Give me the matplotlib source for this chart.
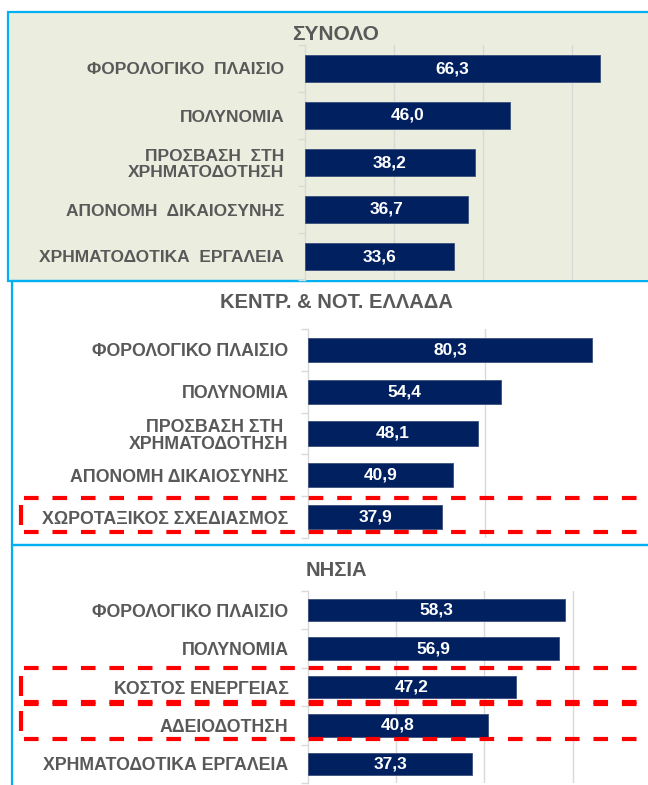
import matplotlib
matplotlib.use("Agg")
import matplotlib.pyplot as plt
from matplotlib.lines import Line2D
from matplotlib.patches import Rectangle

# data
titles = ["ΣΥΝΟΛΟ", "ΚΕΝΤΡ. & ΝΟΤ. ΕΛΛΑΔΑ", "ΝΗΣΙΑ"]
labels_total = ["ΦΟΡΟΛΟΓΙΚΟ  ΠΛΑΙΣΙΟ", "ΠΟΛΥΝΟΜΙΑ", "ΠΡΟΣΒΑΣΗ  ΣΤΗ\nΧΡΗΜΑΤΟΔΟΤΗΣΗ",
                "ΑΠΟΝΟΜΗ  ΔΙΚΑΙΟΣΥΝΗΣ", "ΧΡΗΜΑΤΟΔΟΤΙΚΑ  ΕΡΓΑΛΕΙΑ"]
values_total = [66.3, 46.0, 38.2, 36.7, 33.6]
labels_central = ["ΦΟΡΟΛΟΓΙΚΟ ΠΛΑΙΣΙΟ", "ΠΟΛΥΝΟΜΙΑ", "ΠΡΟΣΒΑΣΗ ΣΤΗ \nΧΡΗΜΑΤΟΔΟΤΗΣΗ",
                  "ΑΠΟΝΟΜΗ ΔΙΚΑΙΟΣΥΝΗΣ", "ΧΩΡΟΤΑΞΙΚΟΣ ΣΧΕΔΙΑΣΜΟΣ"]
values_central = [80.3, 54.4, 48.1, 40.9, 37.9]
labels_islands = ["ΦΟΡΟΛΟΓΙΚΟ ΠΛΑΙΣΙΟ", "ΠΟΛΥΝΟΜΙΑ", "ΚΟΣΤΟΣ ΕΝΕΡΓΕΙΑΣ",
                  "ΑΔΕΙΟΔΟΤΗΣΗ", "ΧΡΗΜΑΤΟΔΟΤΙΚΑ ΕΡΓΑΛΕΙΑ"]
values_islands = [58.3, 56.9, 47.2, 40.8, 37.3]

W, H = 648, 785
NAVY = "#002060"
GREY = "#595959"
LIGHT = "#D9D9D9"
CYAN = "#00B0F0"
RED = "#FF0000"

plt.rcParams['lines.scale_dashes'] = False
font = ['Liberation Sans', 'DejaVu Sans']

fig = plt.figure(figsize=(W / 100, H / 100), dpi=100)
fig.patch.set_facecolor("white")


def px_rect(x0, y0, x1, y1):
    # pixel box (top-left origin) -> figure fraction [l, b, w, h]
    return [x0 / W, 1 - y1 / H, (x1 - x0) / W, (y1 - y0) / H]


def frame(x0, y0, x1, y1, face="none"):
    l, b, w, h = px_rect(x0, y0, x1, y1)
    fig.add_artist(Rectangle((l, b), w, h, transform=fig.transFigure,
                             facecolor=face, edgecolor=CYAN, lw=1.6, zorder=0))


# panel frames
frame(8, 12, 700, 281, face="#EBEEDF")
frame(12, 281, 700, 545)
frame(12, 545, 700, 840)


def panel(box, labels, values, xmax, step, title, title_y, lab_size, pad,
          val_size, bg, title_size):
    ax = fig.add_axes(px_rect(*box))
    ax.set_facecolor(bg if bg else "none")
    ax.patch.set_alpha(0 if bg is None else 1)
    pos = list(range(len(values)))
    ax.barh(pos, values, height=0.58, color=NAVY, edgecolor="#3A4F7A", lw=0.6, zorder=3)
    ax.set_xlim(0, xmax)
    ax.set_ylim(len(values) - 0.5, -0.5)
    ax.set_xticks([t for t in range(step, int(xmax) + 1, step)])
    ax.grid(axis="x", color=LIGHT, lw=1.0, zorder=0)
    ax.tick_params(axis="x", length=0, labelbottom=False)
    for s in ["top", "right", "bottom"]:
        ax.spines[s].set_visible(False)
    ax.spines["left"].set_color(LIGHT)
    ax.spines["left"].set_linewidth(1.0)
    ax.set_yticks(pos)
    ax.set_yticklabels(labels, family=font, fontsize=lab_size, color=GREY,
                       fontweight="bold", linespacing=1.05)
    ax.set_yticks([p + 0.5 for p in [-1] + pos], minor=True)
    ax.tick_params(axis="y", which="major", length=0, pad=pad)
    ax.tick_params(axis="y", which="minor", length=5, color=LIGHT, width=1.0)
    for p, v in zip(pos, values):
        ax.text(v / 2, p, f"{v:.1f}".replace(".", ","), ha="center", va="center",
                color="white", fontweight="bold", family=font, fontsize=val_size, zorder=4)
    fig.text(336 / W, 1 - title_y / H, title, ha="center", va="center",
             color=GREY, fontweight="bold", family=font, fontsize=title_size)
    return ax


ax1 = panel((305, 45, 648, 280), labels_total, values_total, 77.1, 20, titles[0], 35,
            12.5, 15, 12.5, "#EBEEDF", 15)
ax2 = panel((308, 329, 648, 538), labels_central, values_central, 96, 50, titles[1], 303,
            12.8, 14, 12.5, None, 14.5)
ax3 = panel((308, 591, 648, 783), labels_islands, values_islands, 77.1, 20, titles[2], 570,
            12.8, 14, 12.5, None, 14.5)


def dashed_box(ax, idx, top, bottom):
    # highlight box around a category, in figure pixels horizontally
    tr = ax.transData.transform
    y_top = tr((0, idx - top))[1] / H
    y_bot = tr((0, idx + bottom))[1] / H
    x_l = 21 / W
    kw = dict(color=RED, lw=3.0, dashes=(10.5, 10), transform=fig.transFigure, zorder=10)
    fig.add_artist(Line2D([x_l + 0.005, 1.02], [y_top, y_top], **kw))
    fig.add_artist(Line2D([x_l + 0.005, 1.02], [y_bot, y_bot], **kw))
    mid = (y_top + y_bot) / 2
    fig.add_artist(Line2D([x_l, x_l], [mid - 10 / H, mid + 10 / H], color=RED, lw=3.0,
                          transform=fig.transFigure, zorder=10, solid_capstyle="butt"))


dashed_box(ax2, 4, 0.45, 0.36)
dashed_box(ax3, 2, 0.49, 0.44)
dashed_box(ax3, 3, 0.6, 0.36)

fig.savefig("out.png", dpi=100)
